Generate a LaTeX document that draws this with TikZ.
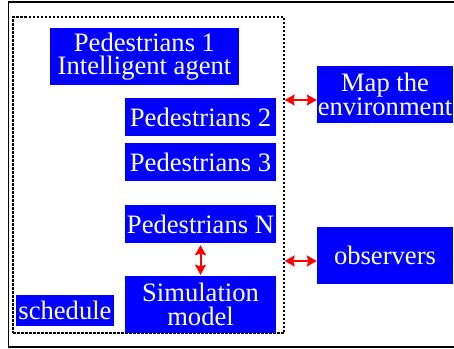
\documentclass[tikz,border=0pt]{standalone}
\usepackage{fontspec}
\setmainfont{Liberation Serif}
\usetikzlibrary{arrows.meta}
\definecolor{agentblue}{RGB}{0,0,255}
\tikzstyle{agentbox} = [fill=agentblue, text=white, rectangle, inner sep=0pt, align=center, font=\fontsize{26.6}{23.5}\selectfont]
\tikzstyle{link} = [draw=red, line width=2pt, {Stealth[length=10pt,width=11pt,inset=1.5pt]}-{Stealth[length=10pt,width=11pt,inset=1.5pt]}]

\begin{document}
\begin{tikzpicture}[x=1pt,y=-1pt]
\useasboundingbox (0,0) rectangle (454,348);
% outer frame, runs past the right edge
\draw[line width=1.5pt] (8.5,2) rectangle (470,347);
% group of agents
\node[draw, line width=1.3pt, dash pattern=on 2.5pt off 1.5pt, minimum width=271pt, minimum height=316pt, inner sep=0pt] (agents) at (148.5,175) {};
\node[agentbox, minimum width=189pt, minimum height=57pt] (ped1) at (144.5,56.5) {Pedestrians 1\\Intelligent agent};
\node[agentbox, minimum width=151pt, minimum height=38pt] (ped2) at (200.5,117) {Pedestrians 2};
\node[agentbox, minimum width=151pt, minimum height=38pt] (ped3) at (200.5,162) {Pedestrians 3};
\node[agentbox, minimum width=151pt, minimum height=38pt] (pedN) at (200.5,224) {Pedestrians N};
\node[agentbox, minimum width=151pt, minimum height=57pt] (sim) at (200.5,304.5) {Simulation\\model};
\node[agentbox, minimum width=98pt, minimum height=31pt] (sched) at (65,310.5) {schedule};
% outside the group
\node[agentbox, minimum width=136pt, minimum height=57pt] (env) at (385,94.5) {Map the\\environment};
\node[agentbox, minimum width=136pt, minimum height=57pt] (obs) at (385,255.5) {observers};
\coordinate (envin) at ([yshift=-5.5pt]env.west);
\coordinate (obsin) at ([yshift=-5.5pt]obs.west);
\draw[link] (envin -| agents.east) -- (envin);
\draw[link] (obsin -| agents.east) -- (obsin);
\draw[link, shorten <=2pt, shorten >=1pt] (pedN) -- (sim);
\end{tikzpicture}
\end{document}
